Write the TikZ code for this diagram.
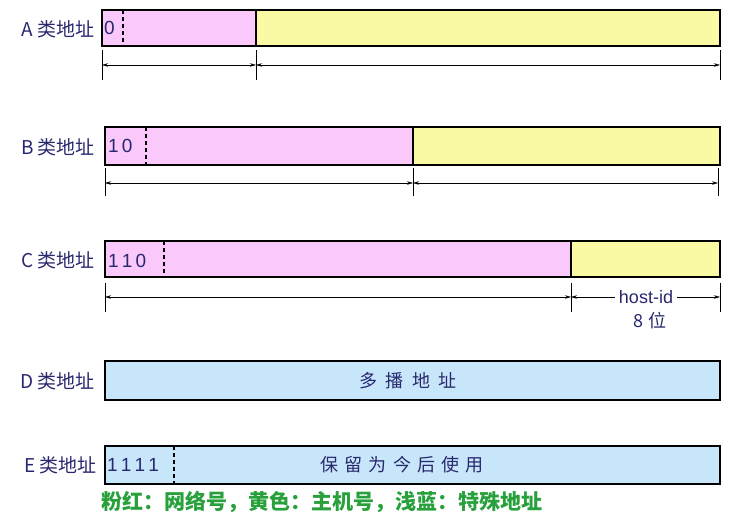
\documentclass[tikz,border=0pt]{standalone}
\usepackage{fontspec}
\setmainfont{Liberation Sans}
\newfontfamily\cjk{Noto Sans CJK SC}
\usetikzlibrary{arrows.meta}
\definecolor{pinkf}{RGB}{250,200,250}
\definecolor{yellf}{RGB}{250,250,165}
\definecolor{bluef}{RGB}{200,230,250}
\definecolor{lblc}{RGB}{40,40,110}
\definecolor{greenc}{RGB}{40,160,60}
\tikzset{
 fld/.style={draw=black,line width=1.3pt},
 lbl/.style={anchor=east,text=lblc,font=\cjk\fontsize{19}{21}\selectfont,inner sep=0},
 bits/.style={anchor=west,text=lblc,font=\fontsize{19}{21}\selectfont,inner sep=0},
 txt/.style={text=lblc,font=\cjk\fontsize{18}{20}\selectfont,inner sep=0},
 dsh/.style={line width=1.3pt,dash pattern=on 4pt off 3pt},
 tick/.style={line width=0.5pt},
 dim/.style={line width=0.5pt,{Stealth[length=6pt,width=3.5pt]}-{Stealth[length=6pt,width=3.5pt]}},
}
\begin{document}
\begin{tikzpicture}[x=1pt,y=-1pt]
\useasboundingbox (0,0) rectangle (729,520);
% A
\node[lbl] (la) at (95,29) {A 类地址};
\fill[pinkf] (102,10) rectangle (256,46);
\fill[yellf] (256,10) rectangle (720,46);
\draw[fld] (102,10) rectangle (720,46);
\draw[fld] (256,10) -- (256,46);
\draw[dsh] (123,10) -- (123,46);
\node[bits] (ba) at (104,28) {0};
\foreach \x in {102,256,720} \draw[tick] (\x,50) -- (\x,80);
\coordinate (a1) at (102,65); \coordinate (a2) at (256,65); \coordinate (a3) at (720,65);
\draw[dim] (a1) -- (a2); \draw[dim] (a2) -- (a3);
% B
\node[lbl] (lb) at (95,147) {B 类地址};
\fill[pinkf] (105,127) rectangle (413,165);
\fill[yellf] (413,127) rectangle (720,165);
\draw[fld] (105,127) rectangle (720,165);
\draw[fld] (413,127) -- (413,165);
\draw[dsh] (146,127) -- (146,165);
\node[bits] (bb) at (108,146) {1\,0};
\foreach \x in {105,413,718} \draw[tick] (\x,168) -- (\x,196);
\coordinate (b1) at (105,183); \coordinate (b2) at (413,183); \coordinate (b3) at (718,183);
\draw[dim] (b1) -- (b2); \draw[dim] (b2) -- (b3);
% C
\node[lbl] (lc) at (95,260) {C 类地址};
\fill[pinkf] (105,241) rectangle (571,277);
\fill[yellf] (571,241) rectangle (720,277);
\draw[fld] (105,241) rectangle (720,277);
\draw[fld] (571,241) -- (571,277);
\draw[dsh] (164,241) -- (164,277);
\node[bits] (bc) at (108,261) {1\,1\,0};
\foreach \x in {105,571,720} \draw[tick] (\x,283) -- (\x,312);
\coordinate (c1) at (105,297); \coordinate (c2) at (571,297); \coordinate (c3) at (720,297);
\draw[dim] (c1) -- (c2);
\node[text=lblc,font=\fontsize{18}{20}\selectfont,fill=white,inner sep=4pt] (hid) at (646,297) {host-id};
\draw[line width=0.5pt,-{Stealth[length=6pt,width=3.5pt]}] (hid) -- (c2);
\draw[line width=0.5pt,-{Stealth[length=6pt,width=3.5pt]}] (hid) -- (c3);
\node[txt] (hb) at (650,321) {8 位};
% D
\node[lbl] (ld) at (95,381) {D 类地址};
\draw[fld,fill=bluef] (105,361) rectangle (720,400);
\node[txt] (td) at (408,381) {多\hspace{0.45em}播\hspace{0.45em}地\hspace{0.45em}址};
% E
\node[lbl] (le) at (97,465) {E 类地址};
\draw[fld,fill=bluef] (105,446) rectangle (720,484);
\draw[dsh] (174,446) -- (174,484);
\node[bits] (be) at (107,465) {1\,1\,1\,1};
\node[txt] (te) at (402,465) {保\hspace{0.35em}留\hspace{0.35em}为\hspace{0.35em}今\hspace{0.35em}后\hspace{0.35em}使\hspace{0.35em}用};
\node[text=greenc,font=\cjk\bfseries\fontsize{21}{23}\selectfont,inner sep=0] (leg) at (322,502) {粉红：网络号，黄色：主机号，浅蓝：特殊地址};
\end{tikzpicture}
\end{document}
